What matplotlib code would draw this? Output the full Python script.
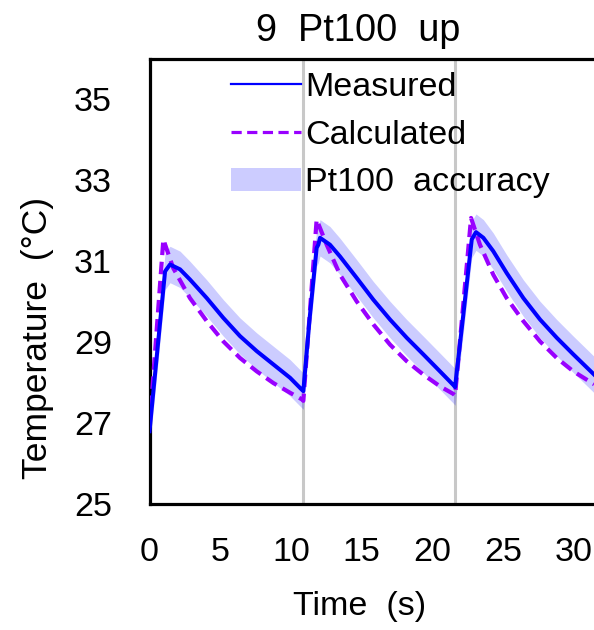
import matplotlib
matplotlib.use("Agg")
import matplotlib.pyplot as plt
from matplotlib.lines import Line2D
from matplotlib.patches import Patch
import numpy as np

plt.rcParams['font.family'] = ['Liberation Sans', 'DejaVu Sans']

# ---- data ----
time_meas = [0.0, 0.5, 1.1, 1.45, 2.16, 2.86, 4.05, 5.22, 6.40, 7.58, 8.76, 9.94, 10.76,
             10.88, 11.3, 11.82, 11.94, 12.06, 12.76, 13.47, 14.65, 15.83, 17.01, 18.19, 19.36, 20.54, 21.49,
             21.61, 22.2, 22.79, 23.09, 23.61, 24.31, 25.26, 26.44, 27.62, 28.80, 29.97, 31.44]
temp_meas = [26.8, 28.6, 30.75, 30.92, 30.80, 30.55, 30.09, 29.60, 29.15, 28.78, 28.45, 28.12, 27.83,
             27.79, 29.5, 31.33, 31.41, 31.58, 31.41, 31.12, 30.59, 30.05, 29.56, 29.11, 28.70, 28.28, 27.94,
             27.89, 29.7, 31.54, 31.72, 31.58, 31.25, 30.71, 30.09, 29.56, 29.11, 28.70, 28.20]

time_calc = [0.0, 0.98, 1.68, 2.86, 4.05, 5.22, 6.40, 7.58, 8.76, 9.94, 10.76,
             10.88, 11.82, 12.53, 13.47, 14.65, 15.83, 17.01, 18.19, 19.36, 20.54, 21.49,
             21.61, 22.74, 23.37, 24.31, 25.26, 26.44, 27.62, 28.80, 29.97, 31.44]
temp_calc = [26.9, 31.54, 30.83, 30.09, 29.52, 29.02, 28.61, 28.28, 27.99, 27.75, 27.59,
             27.55, 32.03, 31.41, 30.67, 30.01, 29.44, 28.94, 28.53, 28.20, 27.91, 27.72,
             27.68, 32.07, 31.41, 30.67, 30.09, 29.52, 29.02, 28.61, 28.28, 27.96]

pt100_accuracy = 0.45
cycle_starts = [10.88, 21.61]

x_ticks = [0, 5, 10, 15, 20, 25, 30]
y_ticks = [25, 27, 29, 31, 33, 35]

title = "9  Pt100  up"
x_label = "Time  (s)"
y_label = "Temperature  (°C)"
labels = ["Measured", "Calculated", "Pt100  accuracy"]

# ---- figure ----
W, H = 594, 630
fig = plt.figure(figsize=(W / 100, H / 100), dpi=100)
left_px, top_px, bottom_px = 149.5, 59, 504
px_per_s = 14.14
xmax = 35
ax = fig.add_axes([left_px / W, (H - bottom_px) / H, xmax * px_per_s / W, (bottom_px - top_px) / H])

tm = np.array(time_meas)
ym = np.array(temp_meas)
ax.fill_between(tm, ym - pt100_accuracy, ym + pt100_accuracy, color='#0000FF', alpha=0.2, lw=0, zorder=2)
for cs in cycle_starts:
    ax.axvline(cs, color='#C8C8C8', lw=2.2, zorder=1)
ax.plot(time_calc, temp_calc, color='#9900FF', lw=3.0, dashes=(3.0, 1.6), zorder=3)
ax.plot(tm, ym, color='#0000FF', lw=2.9, zorder=4)

ax.set_xlim(0, xmax)
ax.set_ylim(25, 36)
ax.set_xticks(x_ticks)
ax.set_yticks(y_ticks)
fs = 24.5
ax.tick_params(axis='both', length=0, labelsize=fs)
ax.tick_params(axis='y', pad=27)
ax.tick_params(axis='x', pad=24)
for side in ['left', 'top', 'bottom']:
    ax.spines[side].set_linewidth(2.3)
    ax.spines[side].set_color('black')
ax.spines['right'].set_visible(False)

fig.text(358 / W, 1 - 31 / H, title, ha='center', va='center', fontsize=27.3)
fig.text(360 / W, 1 - 607 / H, x_label, ha='center', va='center', fontsize=fs)
fig.text(38 / W, 1 - 338 / H, y_label, ha='center', va='center', rotation=90, fontsize=25.5)

handles = [Line2D([], [], color='#0000FF', lw=1.6),
           Line2D([], [], color='#9900FF', lw=2.3, dashes=(3.2, 1.7)),
           Patch(facecolor='#0000FF', alpha=0.2, edgecolor='none')]
leg = ax.legend(handles, labels, loc='upper left', bbox_to_anchor=(231 / W, 1 - 72 / H),
                bbox_transform=fig.transFigure, frameon=False, fontsize=fs,
                handlelength=2.06, handletextpad=0.12, borderpad=0, borderaxespad=0,
                labelspacing=0.49)

fig.savefig("out.png", dpi=100)
